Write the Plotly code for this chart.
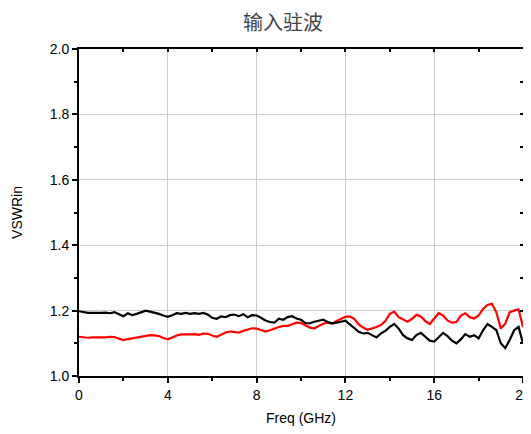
import plotly.graph_objects as go

freq = [round(i * 0.2, 1) for i in range(101)]

vswr_black = [1.198, 1.195, 1.193, 1.193, 1.192, 1.193, 1.194, 1.192, 1.195, 1.190,
              1.183, 1.192, 1.186, 1.190, 1.195, 1.200, 1.197, 1.194, 1.190, 1.185,
              1.181, 1.186, 1.192, 1.190, 1.193, 1.190, 1.192, 1.190, 1.193, 1.188,
              1.178, 1.175, 1.182, 1.180, 1.186, 1.188, 1.183, 1.189, 1.180, 1.186,
              1.185, 1.178, 1.170, 1.165, 1.163, 1.175, 1.172, 1.180, 1.183, 1.176,
              1.172, 1.162, 1.161, 1.166, 1.170, 1.172, 1.165, 1.161, 1.163, 1.167,
              1.169, 1.158, 1.145, 1.135, 1.130, 1.132, 1.125, 1.118, 1.130, 1.138,
              1.150, 1.159, 1.145, 1.125, 1.115, 1.110, 1.125, 1.132, 1.120, 1.108,
              1.105, 1.120, 1.132, 1.122, 1.108, 1.100, 1.112, 1.128, 1.120, 1.125,
              1.115, 1.140, 1.159, 1.150, 1.140, 1.100, 1.085, 1.110, 1.140, 1.150,
              1.100]

vswr_red = [1.120, 1.118, 1.117, 1.118, 1.117, 1.118, 1.118, 1.120, 1.119, 1.115,
            1.110, 1.113, 1.115, 1.117, 1.120, 1.122, 1.125, 1.124, 1.122, 1.116,
            1.112, 1.118, 1.124, 1.127, 1.126, 1.127, 1.128, 1.126, 1.130, 1.129,
            1.124, 1.120, 1.126, 1.133, 1.136, 1.135, 1.133, 1.138, 1.142, 1.146,
            1.145, 1.141, 1.136, 1.140, 1.146, 1.150, 1.153, 1.153, 1.158, 1.163,
            1.162, 1.156, 1.148, 1.146, 1.152, 1.160, 1.163, 1.160, 1.168, 1.175,
            1.181, 1.182, 1.175, 1.158, 1.148, 1.141, 1.145, 1.150, 1.156, 1.168,
            1.190, 1.197, 1.180, 1.172, 1.166, 1.175, 1.187, 1.182, 1.168, 1.159,
            1.175, 1.192, 1.185, 1.170, 1.163, 1.165, 1.185, 1.192, 1.180, 1.176,
            1.185, 1.205, 1.217, 1.221, 1.195, 1.145, 1.160, 1.195, 1.200, 1.204,
            1.150]

x_ticks = [0, 4, 8, 12, 16, 20]
y_ticks = [1.0, 1.2, 1.4, 1.6, 1.8, 2.0]
y_tick_labels = ["1.0", "1.2", "1.4", "1.6", "1.8", "2.0"]

fig = go.Figure()
fig.add_trace(go.Scatter(x=freq, y=vswr_red, mode="lines",
                         line=dict(color="#ff0000", width=2.2), showlegend=False))
fig.add_trace(go.Scatter(x=freq, y=vswr_black, mode="lines",
                         line=dict(color="#000000", width=2.2), showlegend=False))

# page body has an 8px default margin, so the figure is sized to the visible area
W, H = 523, 426
font = "Liberation Sans, Arial, sans-serif"
fig.update_layout(
    width=W, height=H,
    margin=dict(l=71, r=8, t=41, b=58, autoexpand=False),
    paper_bgcolor="white", plot_bgcolor="white",
    title=dict(text="输入驻波", x=275 / W, xref="container", xanchor="center",
               y=1 - 15 / H, yref="container", yanchor="middle",
               font=dict(family="Noto Sans CJK SC", size=20, color="#444444")),
    font=dict(family=font, size=14, color="#000000"),
    xaxis=dict(range=[0, 20], tickvals=x_ticks, ticktext=[str(v) for v in x_ticks],
               automargin=False,
               showgrid=True, gridcolor="#cccccc", gridwidth=1,
               showline=True, linecolor="black", linewidth=2,
               ticks="outside", ticklen=5, tickwidth=2, tickcolor="black",
               minor=dict(dtick=2, tick0=0, ticks="outside", ticklen=3, tickwidth=2,
                          tickcolor="black", showgrid=False),
               zeroline=False,
               title=dict(text="Freq (GHz)", font=dict(size=14), standoff=11),
               tickfont=dict(size=14)),
    yaxis=dict(range=[1.0, 2.0], tickvals=y_ticks, ticktext=y_tick_labels,
               automargin=False,
               showgrid=True, gridcolor="#cccccc", gridwidth=1,
               showline=True, linecolor="black", linewidth=2,
               ticks="outside", ticklen=5, tickwidth=2, tickcolor="black",
               minor=dict(dtick=0.1, tick0=1.0, ticks="outside", ticklen=3, tickwidth=2,
                          tickcolor="black", showgrid=False),
               zeroline=False,
               title=dict(text="VSWRin", font=dict(size=14), standoff=24),
               tickfont=dict(size=14)),
    xaxis2=dict(overlaying="x", side="top", range=[0, 20], matches="x",
                automargin=False,
                showline=True, linecolor="black", linewidth=2,
                ticks="inside", ticklen=3, tickwidth=2, tickcolor="black",
                tickvals=x_ticks, showticklabels=False, showgrid=False, zeroline=False,
                minor=dict(dtick=2, tick0=0, ticks="inside", ticklen=3, tickwidth=2,
                           tickcolor="black", showgrid=False)),
    yaxis2=dict(overlaying="y", side="right", range=[1.0, 2.0],
                automargin=False,
                showline=True, linecolor="black", linewidth=2,
                ticks="inside", ticklen=3, tickwidth=2, tickcolor="black",
                tickvals=y_ticks, showticklabels=False, showgrid=False, zeroline=False,
                minor=dict(dtick=0.1, tick0=1.0, ticks="inside", ticklen=3, tickwidth=2,
                           tickcolor="black", showgrid=False)),
)
# invisible trace to activate the mirrored axes
fig.add_trace(go.Scatter(x=[0, 20], y=[1.0, 2.0], xaxis="x2", yaxis="y2", mode="lines",
                         line=dict(width=0), hoverinfo="skip", showlegend=False,
                         opacity=0))

fig.write_html("out.html")
